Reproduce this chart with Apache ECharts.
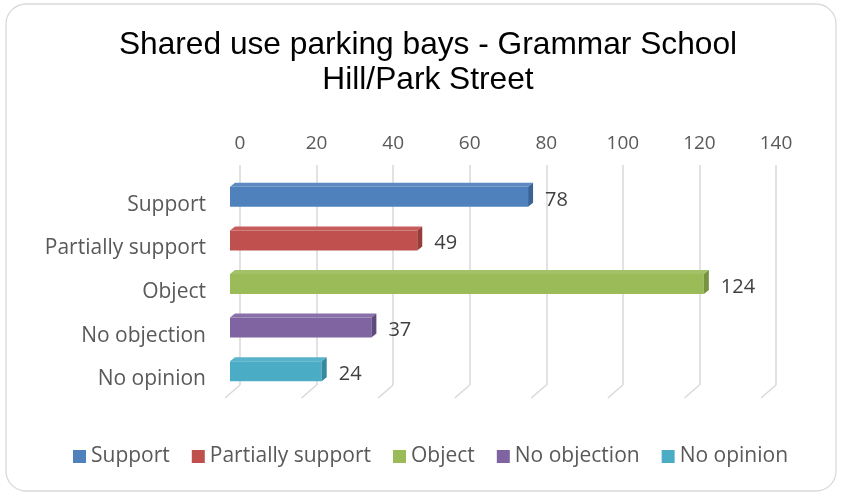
<!DOCTYPE html>
<html>
<head>
<meta charset="utf-8">
<script src="https://cdn.jsdelivr.net/npm/echarts@6/dist/echarts.min.js"></script>
<style>
  html, body { margin: 0; padding: 0; background: #fff; }
  #chart { width: 841px; height: 493px; }
</style>
</head>
<body>
<div id="chart"></div>
<script>
// data
var categories = ['Support', 'Partially support', 'Object', 'No objection', 'No opinion'];
var values = [78, 49, 124, 37, 24];
var ticks = [0, 20, 40, 60, 80, 100, 120, 140];

// Excel 3D bar colours: front, top, side
var front = ['#4f81bd', '#c0504d', '#9bbb59', '#8064a2', '#4bacc6'];
var top_ = ['#5d8ac2', '#c65d5a', '#a3c166', '#8a70aa', '#58b2ca'];
var side = ['#3a6497', '#983c39', '#77933f', '#5f4a7d', '#358aa0'];

var chart = echarts.init(document.getElementById('chart'));

// one bar series per category so each gets its own legend entry
var barSeries = categories.map(function (name, i) {
    return {
        name: name,
        type: 'bar',
        stack: 'all',
        xAxisIndex: 0,
        yAxisIndex: 0,
        barWidth: 20,
        itemStyle: { color: front[i] },
        label: {
            show: true,
            position: 'right',
            distance: 17,
            offset: [0, 3],
            color: '#404040',
            fontFamily: 'Open Sans',
            fontSize: 20
        },
        data: categories.map(function (c, j) { return j === i ? values[i] : '-'; }),
        z: 3
    };
});

// top and side faces of each bar
var faces = {
    name: 'faces',
    type: 'custom',
    xAxisIndex: 0,
    yAxisIndex: 0,
    silent: true,
    z: 4,
    renderItem: function (params, api) {
        var v = api.value(0), i = api.value(1);
        var p0 = api.coord([0, i]), p1 = api.coord([v, i]);
        var yT = p0[1] - 10, yB = p0[1] + 10, x0 = p0[0], x1 = p1[0];
        var dx = 5, dy = 4;
        return {
            type: 'group',
            children: [
                { type: 'polygon', shape: { points: [[x0, yT], [x1, yT], [x1 + dx, yT - dy], [x0 + dx, yT - dy]] },
                  style: { fill: top_[i] } },
                { type: 'polygon', shape: { points: [[x1, yT], [x1 + dx, yT - dy], [x1 + dx, yB - dy], [x1, yB]] },
                  style: { fill: side[i] } }
            ]
        };
    },
    data: values.map(function (v, i) { return [v, i]; })
};

// slanted floor ends of the gridlines
var floorLines = {
    name: 'floor',
    type: 'custom',
    xAxisIndex: 1,
    yAxisIndex: 1,
    silent: true,
    z: 1,
    renderItem: function (params, api) {
        var p = api.coord([api.value(0), 0]);
        return {
            type: 'line',
            shape: { x1: p[0], y1: p[1], x2: p[0] - 15, y2: p[1] + 13 },
            style: { stroke: '#d9d9d9', lineWidth: 1.5 }
        };
    },
    data: ticks.map(function (t) { return [t, 0]; })
};

chart.setOption({
    animation: false,
    title: {
        text: 'Shared use parking bays - Grammar School\nHill/Park Street',
        left: 423,
        textAlign: 'center',
        top: 23,
        textStyle: {
            fontFamily: 'Liberation Sans',
            fontWeight: 'normal',
            fontSize: 31.7,
            lineHeight: 35,
            color: '#000'
        }
    },
    legend: {
        data: categories,
        left: 68,
        top: 441,
        icon: 'rect',
        itemWidth: 13,
        itemHeight: 13,
        itemGap: 22,
        textStyle: { fontFamily: 'Open Sans', fontSize: 21, color: '#595959' }
    },
    graphic: [{
        type: 'rect',
        shape: { x: 6, y: 4, width: 830, height: 487, r: 20 },
        style: { fill: 'none', stroke: '#d9d9d9', lineWidth: 1.3 },
        z: -1
    }],
    grid: [
        // bars
        { left: 230, top: 175, width: 535, height: 218 },
        // back wall: tick labels and gridlines
        { left: 240, top: 165, width: 536, height: 220 },
        // front edge: category labels
        { left: 230, top: 183, width: 535, height: 218 }
    ],
    xAxis: [
        { gridIndex: 0, type: 'value', min: 0, max: 140, interval: 20, show: false },
        {
            gridIndex: 1, type: 'value', min: 0, max: 140, interval: 20, position: 'top',
            axisLine: { show: false }, axisTick: { show: false },
            axisLabel: { margin: 12, color: '#595959', fontFamily: 'Open Sans', fontSize: 19 },
            splitLine: { lineStyle: { color: '#d9d9d9', width: 1.5 } }
        },
        { gridIndex: 2, type: 'value', min: 0, max: 140, interval: 20, show: false }
    ],
    yAxis: [
        { gridIndex: 0, type: 'category', data: categories, inverse: true, show: false },
        { gridIndex: 1, type: 'value', min: 0, max: 1, show: false },
        {
            gridIndex: 2, type: 'category', data: categories, inverse: true,
            axisLine: { show: false }, axisTick: { show: false },
            axisLabel: { margin: 24, color: '#595959', fontFamily: 'Open Sans', fontSize: 21 }
        }
    ],
    series: barSeries.concat([faces, floorLines])
});
</script>
</body>
</html>
